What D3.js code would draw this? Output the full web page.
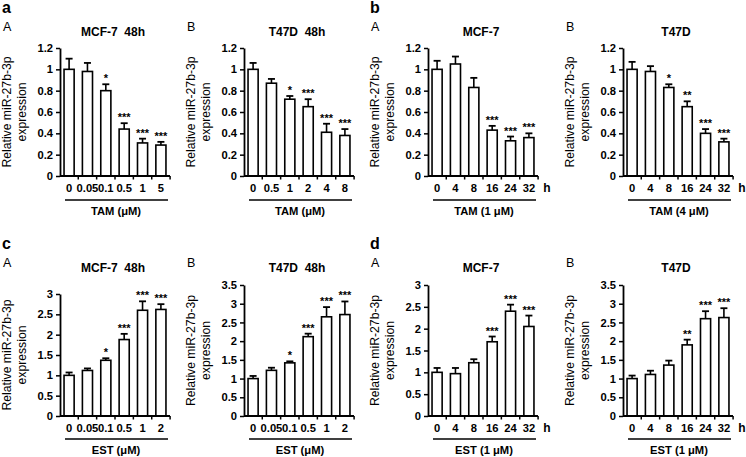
<!DOCTYPE html>
<html><head><meta charset="utf-8">
<script src="https://cdn.jsdelivr.net/npm/d3@7"></script>
<style>
html,body{margin:0;padding:0;background:#fff;}
svg{display:block;font-family:"Liberation Sans",Arial,sans-serif;}
text{white-space:pre;fill:#000;}
.star{font-family:"Liberation Sans",Arial,sans-serif;font-variant-emoji:text;}
</style></head>
<body><svg id="chart" width="746" height="457"></svg>
<script>
// ---------- DATA ----------
const doseCatsA = ["0","0.05","0.1","0.5","1","5"];
const doseCatsB = ["0","0.5","1","2","4","8"];
const timeCats = ["0","4","8","16","24","32"];
const doseCatsEst = ["0","0.05","0.1","0.5","1","2"];

const aA_values = [1.0, 0.98, 0.80, 0.44, 0.31, 0.29];
const aA_errors = [0.10, 0.08, 0.06, 0.055, 0.04, 0.03];
const aA_stars  = ["", "", "*", "***", "***", "***"];

const aB_values = [1.0, 0.87, 0.72, 0.65, 0.41, 0.38];
const aB_errors = [0.06, 0.04, 0.03, 0.07, 0.08, 0.06];
const aB_stars  = ["", "", "*", "***", "***", "***"];

const bA_values = [1.0, 1.05, 0.83, 0.43, 0.33, 0.36];
const bA_errors = [0.08, 0.07, 0.09, 0.04, 0.04, 0.04];
const bA_stars  = ["", "", "", "***", "***", "***"];

const bB_values = [1.0, 0.98, 0.83, 0.65, 0.40, 0.32];
const bB_errors = [0.07, 0.05, 0.03, 0.05, 0.04, 0.03];
const bB_stars  = ["", "", "*", "**", "***", "***"];

const cA_values = [1.0, 1.12, 1.37, 1.88, 2.60, 2.62];
const cA_errors = [0.07, 0.05, 0.05, 0.14, 0.22, 0.13];
const cA_stars  = ["", "", "*", "***", "***", "***"];

const cB_values = [1.0, 1.22, 1.42, 2.12, 2.65, 2.71];
const cB_errors = [0.07, 0.07, 0.04, 0.08, 0.26, 0.35];
const cB_stars  = ["", "", "*", "***", "***", "***"];

const dA_values = [1.0, 0.97, 1.22, 1.70, 2.40, 2.05];
const dA_errors = [0.10, 0.13, 0.08, 0.12, 0.15, 0.25];
const dA_stars  = ["", "", "", "***", "***", "***"];

const dB_values = [1.0, 1.11, 1.36, 1.90, 2.60, 2.63];
const dB_errors = [0.08, 0.10, 0.12, 0.14, 0.20, 0.25];
const dB_stars  = ["", "", "", "**", "***", "***"];

const ticksTop = [0, 0.2, 0.4, 0.6, 0.8, 1, 1.2];
const ticks3 = [0, 0.5, 1, 1.5, 2, 2.5, 3];
const ticks35 = [0, 0.5, 1, 1.5, 2, 2.5, 3, 3.5];

const yLabelLine1 = "Relative miR-27b-3p";
const yLabelLine2 = "expression";

// ---------- PANELS ----------
const panels = [
  {group:"a", sub:"A", title:"MCF-7  48h", cats:doseCatsA, values:aA_values, errors:aA_errors, stars:aA_stars, ticks:ticksTop, xTitle:"TAM (\u03BCM)", unit:"", row:0, x0:60, yTopPx:48},
  {group:"",  sub:"B", title:"T47D  48h", cats:doseCatsB, values:aB_values, errors:aB_errors, stars:aB_stars, ticks:ticksTop, xTitle:"TAM (\u03BCM)", unit:"", row:0, x0:244, yTopPx:48},
  {group:"b", sub:"A", title:"MCF-7", cats:timeCats, values:bA_values, errors:bA_errors, stars:bA_stars, ticks:ticksTop, xTitle:"TAM (1 \u03BCM)", unit:"h", row:0, x0:428, yTopPx:48},
  {group:"",  sub:"B", title:"T47D", cats:timeCats, values:bB_values, errors:bB_errors, stars:bB_stars, ticks:ticksTop, xTitle:"TAM (4 \u03BCM)", unit:"h", row:0, x0:623, yTopPx:48},
  {group:"c", sub:"A", title:"MCF-7  48h", cats:doseCatsEst, values:cA_values, errors:cA_errors, stars:cA_stars, ticks:ticks3, xTitle:"EST (\u03BCM)", unit:"", row:1, x0:60, yTopPx:294},
  {group:"",  sub:"B", title:"T47D  48h", cats:doseCatsEst, values:cB_values, errors:cB_errors, stars:cB_stars, ticks:ticks35, xTitle:"EST (\u03BCM)", unit:"", row:1, x0:244, yTopPx:285},
  {group:"d", sub:"A", title:"MCF-7", cats:timeCats, values:dA_values, errors:dA_errors, stars:dA_stars, ticks:ticks3, xTitle:"EST (1 \u03BCM)", unit:"h", row:1, x0:428, yTopPx:285},
  {group:"",  sub:"B", title:"T47D", cats:timeCats, values:dB_values, errors:dB_errors, stars:dB_stars, ticks:ticks35, xTitle:"EST (1 \u03BCM)", unit:"h", row:1, x0:623, yTopPx:285}
];

const svg = d3.select("#chart");
const plotW = 110;
const rowOff = [0, 236];
const baseY = [176, 416];

panels.forEach(p => {
  const off = rowOff[p.row];
  const y0 = baseY[p.row];
  const g = svg.append("g");
  const x = d3.scaleBand().domain(p.cats).range([p.x0, p.x0 + plotW]).paddingInner(0.45).paddingOuter(0.22);
  const yMax = p.ticks[p.ticks.length - 1];
  const y = d3.scaleLinear().domain([0, yMax]).range([y0, p.yTopPx]);
  const bw = x.bandwidth();

  if (p.group) {
    g.append("text").attr("x", p.x0 - 58).attr("y", 13 + off)
      .attr("font-size", 16).attr("font-weight", "bold").text(p.group);
  }
  g.append("text").attr("x", p.x0 - 57).attr("y", 31 + off)
    .attr("font-size", 12.5).text(p.sub);

  g.append("text").attr("x", p.x0 + 53).attr("y", 36 + off)
    .attr("text-anchor", "middle").attr("font-size", 12).attr("font-weight", "bold").text(p.title);

  const cy = (y0 + p.yTopPx) / 2;
  const yl = g.append("text").attr("transform", `translate(${p.x0 - 49},${cy}) rotate(-90)`)
    .attr("text-anchor", "middle").attr("font-size", 12.2);
  yl.append("tspan").attr("x", 0).attr("y", 0).text(yLabelLine1);
  yl.append("tspan").attr("x", 0).attr("y", 15).text(yLabelLine2);

  const ya = g.append("g").attr("transform", `translate(${p.x0},0)`)
    .call(d3.axisLeft(y).tickValues(p.ticks).tickSize(4).tickSizeOuter(0).tickPadding(3).tickFormat(d3.format("")));
  ya.select(".domain").attr("stroke", "#000").attr("stroke-width", 1.8);
  ya.selectAll(".tick line").attr("stroke", "#000").attr("stroke-width", 1.5);
  ya.selectAll(".tick text").attr("font-size", 11.2).attr("font-weight", "bold")
    .attr("font-family", '"Liberation Sans",Arial,sans-serif').attr("fill", "#000");

  g.selectAll("rect.bar").data(p.values).enter().append("rect")
    .attr("x", (d, i) => x(p.cats[i]))
    .attr("y", d => y(d))
    .attr("width", bw)
    .attr("height", d => y0 - y(d))
    .attr("fill", "#fff").attr("stroke", "#000").attr("stroke-width", 1.6);

  const capW = 7;
  p.values.forEach((v, i) => {
    const cx = x(p.cats[i]) + bw / 2;
    const top = y(v + p.errors[i]);
    g.append("line").attr("x1", cx).attr("x2", cx).attr("y1", y(v)).attr("y2", top)
      .attr("stroke", "#000").attr("stroke-width", 1.6);
    g.append("line").attr("x1", cx - capW / 2).attr("x2", cx + capW / 2).attr("y1", top).attr("y2", top)
      .attr("stroke", "#000").attr("stroke-width", 1.8);
    if (p.stars[i]) {
      g.append("text").attr("class", "star").attr("x", cx).attr("y", top - 2)
        .attr("text-anchor", "middle").attr("font-size", 11).attr("font-weight", "bold")
        .attr("fill", "#000").text(p.stars[i]);
    }
  });

  g.append("line").attr("x1", p.x0).attr("x2", p.x0 + plotW).attr("y1", y0).attr("y2", y0)
    .attr("stroke", "#000").attr("stroke-width", 1.8);
  const step = x.step();
  p.cats.forEach((c, i) => {
    const tx = x(c) + bw / 2 + step / 2;
    g.append("line").attr("x1", tx).attr("x2", tx).attr("y1", y0).attr("y2", y0 + 3.5)
      .attr("stroke", "#000").attr("stroke-width", 1.5);
  });
  p.cats.forEach((c, i) => {
    g.append("text").attr("x", x(c) + bw / 2).attr("y", 192 + (p.row ? 240 : 0))
      .attr("text-anchor", "middle").attr("font-size", 11.2).attr("font-weight", "bold").text(c);
  });
  if (p.unit) {
    g.append("text").attr("x", p.x0 + plotW + 9).attr("y", 192 + (p.row ? 240 : 0))
      .attr("text-anchor", "middle").attr("font-size", 12).attr("font-weight", "bold").text(p.unit);
  }
  const uy = 200 + (p.row ? 239 : 0);
  g.append("line").attr("x1", p.x0 + 5).attr("x2", p.x0 + 108).attr("y1", uy).attr("y2", uy)
    .attr("stroke", "#000").attr("stroke-width", 1.5);
  g.append("text").attr("x", p.x0 + 56).attr("y", 215 + (p.row ? 239 : 0))
    .attr("text-anchor", "middle").attr("font-size", 11.2).attr("font-weight", "bold").text(p.xTitle);
});
</script>
</body></html>
